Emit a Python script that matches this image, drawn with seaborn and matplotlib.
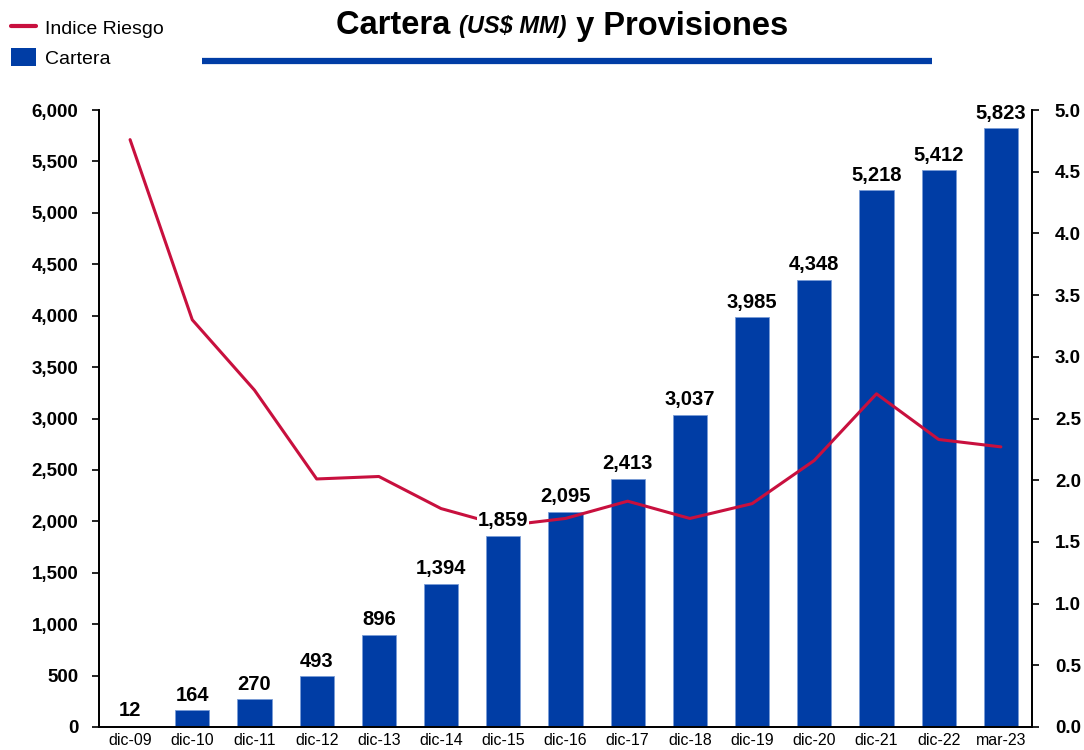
import numpy as np
import pandas as pd
import matplotlib
matplotlib.use("Agg")
import matplotlib.pyplot as plt
import seaborn as sns
from matplotlib.lines import Line2D
from matplotlib.patches import Patch

# Data
periods = ["dic-09", "dic-10", "dic-11", "dic-12", "dic-13", "dic-14", "dic-15", "dic-16",
           "dic-17", "dic-18", "dic-19", "dic-20", "dic-21", "dic-22", "mar-23"]
cartera = [12, 164, 270, 493, 896, 1394, 1859, 2095, 2413, 3037, 3985, 4348, 5218, 5412, 5823]
indice_riesgo = [4.76, 3.30, 2.73, 2.01, 2.03, 1.77, 1.63, 1.69, 1.83, 1.69, 1.81, 2.16, 2.70, 2.33, 2.27]
left_ticks = list(range(0, 6001, 500))
right_ticks = [0.0, 0.5, 1.0, 1.5, 2.0, 2.5, 3.0, 3.5, 4.0, 4.5, 5.0]

BLUE = "#003DA5"
RED = "#C8103E"

sns.set_style("white")
plt.rcParams['font.family'] = ['Liberation Sans', 'DejaVu Sans']
plt.rcParams.update({'text.color': 'black', 'xtick.color': 'black', 'ytick.color': 'black',
                     'axes.labelcolor': 'black'})

df = pd.DataFrame({"periodo": periods, "cartera": cartera,
                   "pos": np.arange(len(periods)), "indice": indice_riesgo})

fig = plt.figure(figsize=(10.84, 7.5), dpi=100)
ax = fig.add_axes([0.0913, 0.0307, 0.8607, 0.8226])
ax2 = ax.twinx()

sns.barplot(data=df, x="periodo", y="cartera", ax=ax, color=BLUE, saturation=1,
            width=0.55, edgecolor="#7A9CD6", linewidth=0.6)
sns.lineplot(data=df, x="pos", y="indice", ax=ax2, color=RED, linewidth=2.2,
             legend=False, zorder=3)

ax.set_xlim(-0.5, len(periods) - 0.5)
ax.set_ylim(0, 6000)
ax2.set_ylim(0, 5)
ax.set_yticks(left_ticks)
ax.set_yticklabels([f"{v:,}" for v in left_ticks], fontsize=13.5, fontweight='bold')
ax2.set_yticks(right_ticks)
ax2.set_yticklabels([f"{v:.1f}" for v in right_ticks], fontsize=13.5, fontweight='bold')
ax.set_xticks(np.arange(len(periods)))
ax.set_xticklabels(periods, fontsize=11.5)
ax.set_xlabel("")
ax.set_ylabel("")
ax2.set_xlabel("")
ax2.set_ylabel("")

ax.tick_params(axis='y', length=5, width=1.2, color='black', pad=10, direction='out', left=True)
ax2.tick_params(axis='y', length=5, width=1.2, color='black', pad=11.5, direction='out', right=True)
ax.tick_params(axis='x', length=0, pad=4)

for a in (ax, ax2):
    a.spines['top'].set_visible(False)
    for s in ('left', 'right', 'bottom'):
        a.spines[s].set_color('black')
        a.spines[s].set_linewidth(1.3)
    a.grid(False)

# Bar value labels, drawn above the line
for i, v in enumerate(cartera):
    ax2.annotate(f"{v:,}", xy=(i, v), xycoords=ax.transData, xytext=(0, 4),
                 textcoords="offset points", ha='center', va='bottom',
                 fontsize=14.5, fontweight='bold', zorder=5,
                 bbox=dict(facecolor='white', edgecolor='none', pad=0.5))

# Title built from pieces
fig.canvas.draw()
renderer = fig.canvas.get_renderer()
ty = 1 - 26 / 750
t1 = fig.text(336 / 1084, ty, "Cartera ", fontsize=23.5, fontweight='bold', va='center')
bb = t1.get_window_extent(renderer)
t2 = fig.text(bb.x1 / fig.bbox.width, ty, "(US$ MM)", fontsize=17,
              fontweight='bold', style='italic', va='center')
bb = t2.get_window_extent(renderer)
fig.text(bb.x1 / fig.bbox.width, ty, " y Provisiones", fontsize=23.5,
         fontweight='bold', va='center')
fig.add_artist(Line2D([202 / 1084, 932 / 1084], [1 - 61 / 750] * 2, color=BLUE,
                      linewidth=4.5, solid_capstyle='butt'))

handles = [Line2D([0], [0], color=RED, linewidth=3),
           Patch(facecolor=BLUE, edgecolor='none')]
fig.legend(handles, ["Indice Riesgo", "Cartera"], loc='upper left',
           bbox_to_anchor=(7 / 1084, 1 - 14 / 750),
           frameon=False, fontsize=14, handlelength=1.3, handleheight=1.1,
           handletextpad=0.45, labelspacing=0.5, borderaxespad=0.0, borderpad=0.2)

fig.savefig("out.png", dpi=100)
